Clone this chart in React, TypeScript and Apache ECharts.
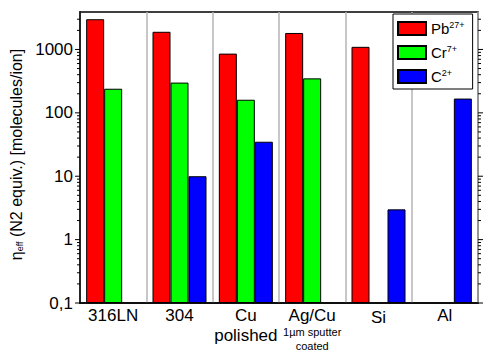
import React, { useEffect, useRef } from 'react';
import * as echarts from 'echarts';

const categories = ['316LN', '304', 'Cu polished', 'Ag/Cu', 'Si', 'Al'];
const seriesNames = ['Pb', 'Cr', 'C'];
const seriesSups = ['27+', '7+', '2+'];
const pbValues = [3000, 1900, 860, 1820, 1100, null];
const crValues = [240, 300, 161, 350, null, null];
const cValues = [null, 10, 35, null, 3, 168];
const majorTickValues = [0.1, 1, 10, 100, 1000];
const minorMultipliers = [2, 3, 4, 5, 6, 7, 8, 9];
const yMin = 0.1;
const yMax = 3900;

const FONT = '"Liberation Sans", Arial, sans-serif';

export default function App() {
  const ref = useRef<HTMLDivElement>(null);
  useEffect(() => {
    if (!ref.current) return;
    const chart = echarts.init(ref.current, undefined, { renderer: 'svg' });

    const tickData: number[][] = [];
    majorTickValues.forEach((d) => {
      tickData.push([0, d, 1]);
      minorMultipliers.forEach((m) => {
        const v = d * m;
        if (v < yMax) tickData.push([0, v, 0]);
      });
    });

    const colors = ['#ff0000', '#00ff00', '#0000ff'];
    const values = [pbValues, crValues, cValues];

    chart.setOption({
      animation: false,
      textStyle: { fontFamily: FONT },
      grid: {
        left: 78,
        right: 7,
        top: 12,
        bottom: 45,
        show: true,
        borderColor: '#000',
        borderWidth: 1.5,
        backgroundColor: 'transparent',
      },
      legend: {
        data: seriesNames,
        orient: 'vertical',
        left: 393,
        top: 14,
        itemWidth: 28,
        itemHeight: 13,
        itemGap: 8,
        padding: [6, 8, 5, 4],
        borderColor: '#000',
        borderWidth: 1,
        backgroundColor: '#fff',
        icon: 'rect',
        formatter: (name: string) => `${name}{sup|${seriesSups[seriesNames.indexOf(name)]}}`,
        textStyle: {
          fontFamily: FONT,
          fontSize: 15,
          color: '#000',
          rich: {
            sup: { fontFamily: FONT, fontSize: 9, color: '#000', verticalAlign: 'top', padding: [0, 0, 8, 0] },
          },
        },
      },
      xAxis: {
        type: 'category',
        data: categories,
        axisTick: { show: false },
        axisLine: { lineStyle: { color: '#000', width: 1.5 } },
        splitLine: { show: true, lineStyle: { color: '#b4b4b4', width: 1.5 } },
        axisLabel: {
          color: '#000',
          fontFamily: FONT,
          fontSize: 17,
          lineHeight: 20,
          margin: 2,
          interval: 0,
          formatter: (v: string) => {
            if (v === 'Cu polished') return 'Cu\npolished';
            if (v === 'Ag/Cu') return '{a|Ag/Cu}\n{s|1µm sputter}\n{s|coated}';
            if (v === 'Si') return '{si|Si}';
            return v;
          },
          rich: {
            a: { fontFamily: FONT, fontSize: 17, lineHeight: 20, color: '#000' },
            s: { fontFamily: FONT, fontSize: 11, lineHeight: 14, color: '#000' },
            si: { fontFamily: FONT, fontSize: 17, lineHeight: 20, color: '#000', padding: [5, 0, 0, 0] },
          },
        },
      },
      yAxis: {
        type: 'log',
        logBase: 10,
        min: yMin,
        max: yMax,
        startValue: yMin,
        name: 'η{sub|eff} (N2 equiv.) [molecules/ion]',
        nameLocation: 'middle',
        nameRotate: 90,
        nameGap: 56,
        nameTextStyle: {
          fontFamily: FONT,
          fontSize: 16,
          color: '#000',
          padding: [0, 0, 0, 6],
          rich: {
            sub: { fontFamily: FONT, fontSize: 9, color: '#000', verticalAlign: 'bottom', padding: [7, 0, 0, 0] },
          },
        },
        axisLine: { show: true, lineStyle: { color: '#000', width: 1.5 } },
        axisTick: { show: false },
        splitLine: { show: false },
        axisLabel: {
          color: '#000',
          fontFamily: FONT,
          fontSize: 17,
          margin: 7,
          showMaxLabel: false,
          formatter: (v: number) => {
            const r = Math.round(v * 10) / 10;
            return r < 1 ? String(r).replace('.', ',') : String(Math.round(r));
          },
        },
      },
      series: [
        ...values.map((vals, i) => ({
          name: seriesNames[i],
          type: 'bar',
          data: vals,
          barWidth: 18,
          barGap: '0%',
          itemStyle: { color: colors[i], borderColor: '#000', borderWidth: 1 },
        })),
        {
          type: 'custom',
          silent: true,
          encode: { x: 0, y: 1 },
          data: tickData,
          renderItem: (params: any, api: any) => {
            const v = api.value(1);
            const major = api.value(2);
            const y = api.coord([0, v])[1];
            const cs = params.coordSys;
            const len = major ? 5 : 3;
            return {
              type: 'group',
              children: [
                { type: 'line', shape: { x1: cs.x - len, y1: y, x2: cs.x, y2: y }, style: { stroke: '#000', lineWidth: 1 } },
                { type: 'line', shape: { x1: cs.x + cs.width, y1: y, x2: cs.x + cs.width + len, y2: y }, style: { stroke: '#000', lineWidth: 1 } },
              ],
            };
          },
        },
      ],
    });
    return () => chart.dispose();
  }, []);
  return <div ref={ref} style={{ position: 'absolute', left: 0, top: 0, width: 485, height: 353 }} />;
}
